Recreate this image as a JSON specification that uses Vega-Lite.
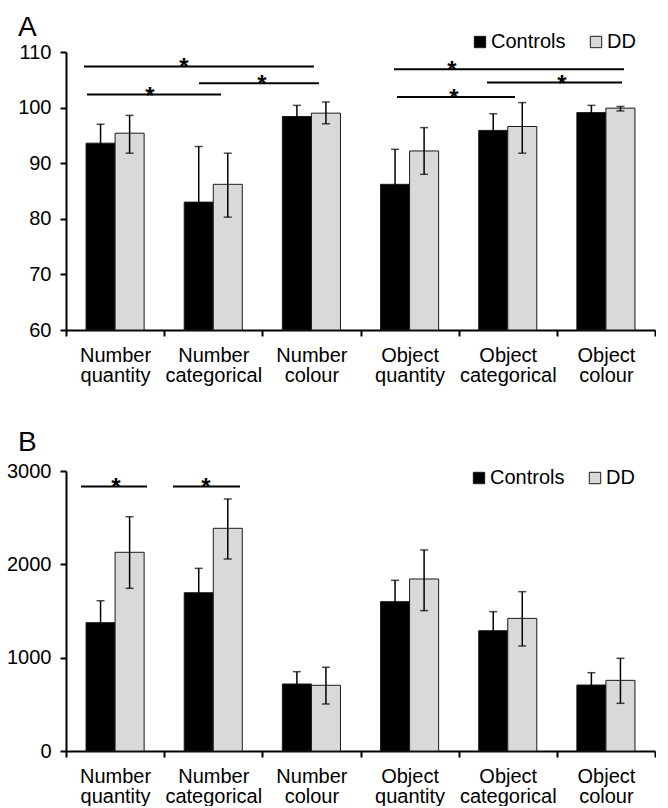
{
  "$schema": "https://vega.github.io/schema/vega-lite/v6.json",
  "background": "white",
  "padding": {"left": 6, "top": 14, "right": 0, "bottom": 0},
  "config": {
    "font": "Liberation Sans",
    "view": {"stroke": null},
    "axis": {"labelFont": "Liberation Sans", "labelColor": "black", "labelFontSize": 20, "domainColor": "black", "domainWidth": 2, "tickColor": "black", "tickWidth": 2, "grid": false, "title": null},
    "legend": {"labelFont": "Liberation Sans", "labelColor": "black", "labelFontSize": 20},
    "title": {"font": "Liberation Sans", "fontSize": 28, "fontWeight": "normal", "color": "black", "anchor": "start", "frame": "group"}
  },
  "datasets": {
    "acc": [
      {"category": "Number quantity", "group": "Controls", "mean": 93.6, "lo": 90.2, "hi": 97.0},
      {"category": "Number quantity", "group": "DD", "mean": 95.4, "lo": 91.8, "hi": 98.6},
      {"category": "Number categorical", "group": "Controls", "mean": 83.0, "lo": 73.0, "hi": 93.0},
      {"category": "Number categorical", "group": "DD", "mean": 86.2, "lo": 80.3, "hi": 91.8},
      {"category": "Number colour", "group": "Controls", "mean": 98.4, "lo": 96.4, "hi": 100.4},
      {"category": "Number colour", "group": "DD", "mean": 99.0, "lo": 97.1, "hi": 101.0},
      {"category": "Object quantity", "group": "Controls", "mean": 86.2, "lo": 79.9, "hi": 92.5},
      {"category": "Object quantity", "group": "DD", "mean": 92.2, "lo": 88.0, "hi": 96.4},
      {"category": "Object categorical", "group": "Controls", "mean": 95.9, "lo": 92.9, "hi": 98.9},
      {"category": "Object categorical", "group": "DD", "mean": 96.6, "lo": 91.8, "hi": 100.9},
      {"category": "Object colour", "group": "Controls", "mean": 99.1, "lo": 97.8, "hi": 100.4},
      {"category": "Object colour", "group": "DD", "mean": 99.9, "lo": 99.4, "hi": 100.2}
    ],
    "rt": [
      {"category": "Number quantity", "group": "Controls", "mean": 1375, "lo": 1140, "hi": 1610},
      {"category": "Number quantity", "group": "DD", "mean": 2129, "lo": 1743, "hi": 2510},
      {"category": "Number categorical", "group": "Controls", "mean": 1696, "lo": 1435, "hi": 1957},
      {"category": "Number categorical", "group": "DD", "mean": 2386, "lo": 2057, "hi": 2700},
      {"category": "Number colour", "group": "Controls", "mean": 718, "lo": 586, "hi": 850},
      {"category": "Number colour", "group": "DD", "mean": 704, "lo": 504, "hi": 897},
      {"category": "Object quantity", "group": "Controls", "mean": 1600, "lo": 1371, "hi": 1829},
      {"category": "Object quantity", "group": "DD", "mean": 1843, "lo": 1504, "hi": 2154},
      {"category": "Object categorical", "group": "Controls", "mean": 1289, "lo": 1085, "hi": 1493},
      {"category": "Object categorical", "group": "DD", "mean": 1421, "lo": 1125, "hi": 1707},
      {"category": "Object colour", "group": "Controls", "mean": 707, "lo": 575, "hi": 839},
      {"category": "Object colour", "group": "DD", "mean": 757, "lo": 511, "hi": 993}
    ],
    "sigA": [
      {"x1": 0.183, "x2": 2.526, "xs": 1.20, "y": 107.4, "star": "*"},
      {"x1": 1.355, "x2": 2.577, "xs": 1.997, "y": 104.4, "star": "*"},
      {"x1": 0.214, "x2": 1.579, "xs": 0.856, "y": 102.35, "star": "*"},
      {"x1": 3.341, "x2": 5.684, "xs": 3.932, "y": 106.9, "star": "*"},
      {"x1": 4.289, "x2": 5.664, "xs": 5.053, "y": 104.5, "star": "*"},
      {"x1": 3.372, "x2": 4.574, "xs": 3.952, "y": 101.9, "star": "*"}
    ],
    "sigB": [
      {"x1": 0.153, "x2": 0.825, "xs": 0.509, "y": 2835, "star": "*"},
      {"x1": 1.09, "x2": 1.772, "xs": 1.426, "y": 2835, "star": "*"}
    ]
  },
  "vconcat": [
    {
      "width": 589,
      "height": 278,
      "title": {"text": "A", "dx": -48, "offset": -10},
      "layer": [
        {
          "data": {"name": "acc"},
          "encoding": {
            "x": {"field": "category", "type": "nominal", "sort": null,
                  "scale": {"paddingInner": 0, "paddingOuter": 0},
                  "axis": {"labelAngle": 0, "tickBand": "extent", "tickSize": 6, "labelPadding": 9, "labelLineHeight": 20, "labelExpr": "split(datum.label, ' ')", "labelBaseline": "top"}},
            "xOffset": {"field": "group", "type": "nominal", "sort": ["Controls", "DD"], "scale": {"paddingInner": 0, "paddingOuter": 0.69}}
          },
          "layer": [
            {
              "mark": {"type": "bar", "stroke": "#1a1a1a", "strokeWidth": 1},
              "encoding": {
                "y": {"field": "mean", "type": "quantitative", "scale": {"domain": [60, 110], "zero": false, "nice": false},
                      "axis": {"values": [60, 70, 80, 90, 100, 110], "tickSize": 6, "labelPadding": 9}},
                "y2": {"datum": 60},
                "color": {"field": "group", "type": "nominal", "sort": ["Controls", "DD"],
                          "scale": {"domain": ["Controls", "DD"], "range": ["#000000", "#d9d9d9"]},
                          "legend": {"title": null, "orient": "none", "direction": "horizontal", "legendX": 404, "legendY": -20, "symbolType": "square", "symbolSize": 130, "symbolStrokeColor": "#1a1a1a", "symbolStrokeWidth": 1, "columnPadding": 20, "labelOffset": 1, "padding": 0}}
              }
            },
            {
              "mark": {"type": "rule", "color": "black", "strokeWidth": 1.5},
              "encoding": {"y": {"field": "lo", "type": "quantitative"}, "y2": {"field": "hi"}}
            },
            {
              "mark": {"type": "tick", "color": "black", "size": 8, "thickness": 1.5},
              "encoding": {"y": {"field": "lo", "type": "quantitative"}}
            },
            {
              "mark": {"type": "tick", "color": "black", "size": 8, "thickness": 1.5},
              "encoding": {"y": {"field": "hi", "type": "quantitative"}}
            }
          ]
        },
        {
          "data": {"name": "sigA"},
          "encoding": {},
          "layer": [
            {
              "mark": {"type": "rule", "color": "black", "strokeWidth": 2},
              "encoding": {
                "x": {"field": "x1", "type": "quantitative", "scale": {"domain": [0, 6], "nice": false, "zero": false}, "axis": null},
                "x2": {"field": "x2"},
                "y": {"field": "y", "type": "quantitative"}
              }
            },
            {
              "mark": {"type": "text", "fontSize": 24, "fontWeight": "bold", "baseline": "alphabetic", "dy": 9, "color": "black"},
              "encoding": {
                "x": {"field": "xs", "type": "quantitative", "scale": {"domain": [0, 6], "nice": false, "zero": false}, "axis": null},
                "y": {"field": "y", "type": "quantitative"},
                "text": {"field": "star"}
              }
            }
          ]
        }
      ],
      "resolve": {"scale": {"x": "independent"}, "axis": {"x": "independent"}}
    },
    {
      "width": 589,
      "height": 280,
      "title": {"text": "B", "dx": -48, "offset": 4},
      "layer": [
        {
          "data": {"name": "rt"},
          "encoding": {
            "x": {"field": "category", "type": "nominal", "sort": null,
                  "scale": {"paddingInner": 0, "paddingOuter": 0},
                  "axis": {"labelAngle": 0, "tickBand": "extent", "tickSize": 6, "labelPadding": 9, "labelLineHeight": 20, "labelExpr": "split(datum.label, ' ')", "labelBaseline": "top"}},
            "xOffset": {"field": "group", "type": "nominal", "sort": ["Controls", "DD"], "scale": {"paddingInner": 0, "paddingOuter": 0.69}}
          },
          "layer": [
            {
              "mark": {"type": "bar", "stroke": "#1a1a1a", "strokeWidth": 1},
              "encoding": {
                "y": {"field": "mean", "type": "quantitative", "scale": {"domain": [0, 3000], "nice": false},
                      "axis": {"values": [0, 1000, 2000, 3000], "format": "d", "tickSize": 6, "labelPadding": 9}},
                "color": {"field": "group", "type": "nominal", "sort": ["Controls", "DD"],
                          "scale": {"domain": ["Controls", "DD"], "range": ["#000000", "#d9d9d9"]},
                          "legend": {"title": null, "orient": "none", "direction": "horizontal", "legendX": 403, "legendY": -3, "symbolType": "square", "symbolSize": 130, "symbolStrokeColor": "#1a1a1a", "symbolStrokeWidth": 1, "columnPadding": 20, "labelOffset": 1, "padding": 0}}
              }
            },
            {
              "mark": {"type": "rule", "color": "black", "strokeWidth": 1.5},
              "encoding": {"y": {"field": "lo", "type": "quantitative"}, "y2": {"field": "hi"}}
            },
            {
              "mark": {"type": "tick", "color": "black", "size": 8, "thickness": 1.5},
              "encoding": {"y": {"field": "lo", "type": "quantitative"}}
            },
            {
              "mark": {"type": "tick", "color": "black", "size": 8, "thickness": 1.5},
              "encoding": {"y": {"field": "hi", "type": "quantitative"}}
            }
          ]
        },
        {
          "data": {"name": "sigB"},
          "encoding": {},
          "layer": [
            {
              "mark": {"type": "rule", "color": "black", "strokeWidth": 2},
              "encoding": {
                "x": {"field": "x1", "type": "quantitative", "scale": {"domain": [0, 6], "nice": false, "zero": false}, "axis": null},
                "x2": {"field": "x2"},
                "y": {"field": "y", "type": "quantitative"}
              }
            },
            {
              "mark": {"type": "text", "fontSize": 24, "fontWeight": "bold", "baseline": "alphabetic", "dy": 9, "color": "black"},
              "encoding": {
                "x": {"field": "xs", "type": "quantitative", "scale": {"domain": [0, 6], "nice": false, "zero": false}, "axis": null},
                "y": {"field": "y", "type": "quantitative"},
                "text": {"field": "star"}
              }
            }
          ]
        }
      ],
      "resolve": {"scale": {"x": "independent"}, "axis": {"x": "independent"}}
    }
  ],
  "spacing": 44,
  "resolve": {"scale": {"y": "independent", "x": "independent", "color": "independent", "xOffset": "independent"}, "legend": {"color": "independent"}}
}
